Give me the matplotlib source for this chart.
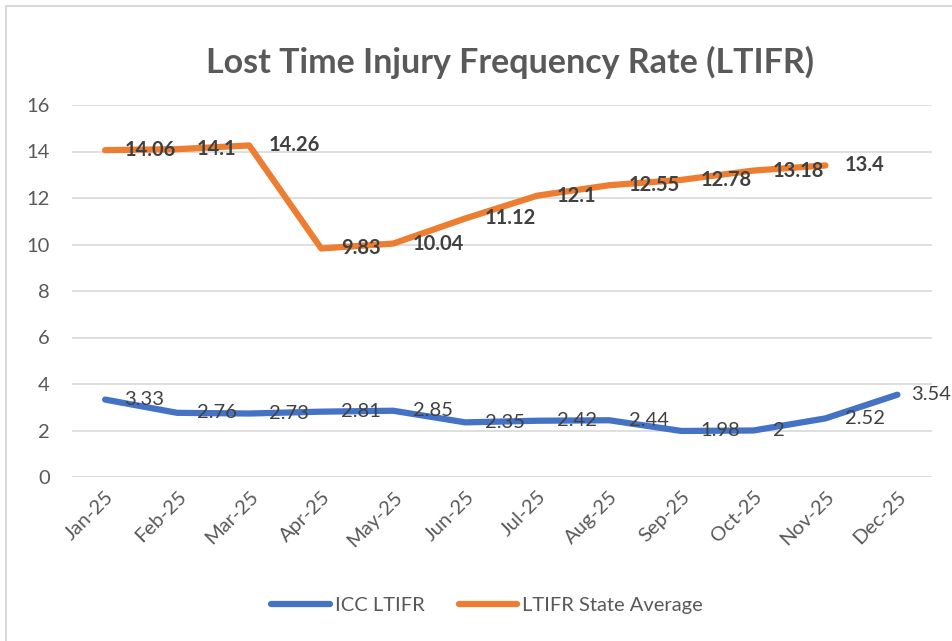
import numpy as np
import matplotlib
matplotlib.use("Agg")
import matplotlib.pyplot as plt
from matplotlib.patches import Rectangle

months = ["Jan-25", "Feb-25", "Mar-25", "Apr-25", "May-25", "Jun-25",
          "Jul-25", "Aug-25", "Sep-25", "Oct-25", "Nov-25", "Dec-25"]
icc_ltifr = [3.33, 2.76, 2.73, 2.81, 2.85, 2.35, 2.42, 2.44, 1.98, 2, 2.52, 3.54]
state_avg = [14.06, 14.1, 14.26, 9.83, 10.04, 11.12, 12.1, 12.55, 12.78, 13.18, 13.4, np.nan]
y_ticks = [0, 2, 4, 6, 8, 10, 12, 14, 16]

plt.rcParams['font.family'] = ['Lato', 'DejaVu Sans']

BLUE = "#4472C4"
ORANGE = "#ED7D31"
GRAY = "#595959"
LABEL = "#404040"
FS = 14.5

fig = plt.figure(figsize=(9.52, 6.41), dpi=100)
ax = fig.add_axes([72/952, 1-477/641, 860/952, 372/641])

x = np.arange(len(months))
ax.plot(x, icc_ltifr, color=BLUE, lw=4.5, solid_capstyle='round',
        solid_joinstyle='round', label="ICC LTIFR", zorder=3)
ax.plot(x, state_avg, color=ORANGE, lw=4.5, solid_capstyle='round',
        solid_joinstyle='round', label="LTIFR State Average", zorder=3)

def fmt(v):
    return f"{v:g}"

n = len(months)
for xi, v in zip(x, icc_ltifr):
    dx = 14 if xi < n - 1 else 10
    ax.annotate(fmt(v), (xi, v), xytext=(dx, 0), textcoords='offset points',
                ha='left', va='center', fontsize=FS, color=LABEL,
                annotation_clip=False, zorder=4)
for xi, v in zip(x, state_avg):
    if np.isnan(v):
        continue
    ax.annotate(fmt(v), (xi, v), xytext=(14, 0), textcoords='offset points',
                ha='left', va='center', fontsize=FS, color=LABEL,
                fontweight='bold', annotation_clip=False, zorder=4)

ax.set_xlim(-0.46, n - 0.52)
ax.set_ylim(0, 16)
ax.set_yticks(y_ticks)
ax.set_xticks(x)
ax.set_xticklabels(months, rotation=45, ha='right', rotation_mode='anchor')
ax.tick_params(axis='both', length=0, labelsize=FS, labelcolor=GRAY)
ax.tick_params(axis='y', pad=16)
ax.tick_params(axis='x', pad=8)
ax.grid(axis='y', color="#D9D9D9", lw=1.2)
ax.set_axisbelow(True)
for s in ax.spines.values():
    s.set_visible(False)

fig.text(510/952, 1-62/641, "Lost Time Injury Frequency Rate (LTIFR)",
         ha='center', va='center', fontsize=24.5, fontweight='bold', color=GRAY)

leg = fig.legend(loc='center', bbox_to_anchor=(487/952, 1-605/641), ncol=2,
                 frameon=False, fontsize=FS, handlelength=2.9,
                 handletextpad=0.25, columnspacing=1.7)
for t in leg.get_texts():
    t.set_color(GRAY)

fig.patches.append(Rectangle((6/952, -0.1), 1.2, 1 - 6/641 + 0.1,
                             transform=fig.transFigure, fill=False,
                             edgecolor="#D9D9D9", lw=1.5))

fig.savefig("out.png", dpi=100)
